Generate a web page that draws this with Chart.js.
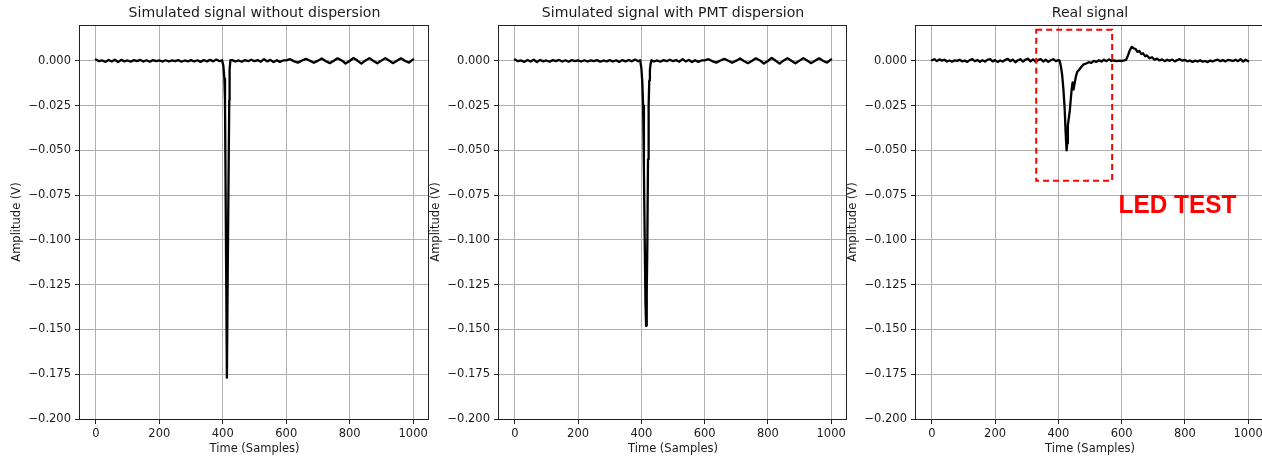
<!DOCTYPE html>
<html>
<head>
<meta charset="utf-8">
<script src="https://cdn.jsdelivr.net/npm/chart.js@4.4.1/dist/chart.umd.min.js"></script>
<style>
  html, body { margin: 0; padding: 0; background: #fff; overflow: hidden; width: 1262px; height: 457px; }
  canvas { position: absolute; top: 0; }
</style>
</head>
<body>
<canvas id="c1" width="432" height="457" style="left:0px"></canvas>
<canvas id="c2" width="431" height="457" style="left:419px"></canvas>
<canvas id="c3" width="431" height="457" style="left:836px"></canvas>
<script>
const titles = ['Simulated signal without dispersion', 'Simulated signal with PMT dispersion', 'Real signal'];
const xLabel = 'Time (Samples)';
const yLabel = 'Amplitude (V)';
const xTicks = [0, 200, 400, 600, 800, 1000];
const yTicks = [-0.2, -0.175, -0.15, -0.125, -0.1, -0.075, -0.05, -0.025, 0];

// shared baseline noise of the two simulated traces
const simBaseTime = [
  0, 10, 20, 30, 40, 50, 60, 70, 80, 90, 100, 110, 120, 130, 140, 150, 160, 170, 180, 190,
  200, 210, 220, 230, 240, 250, 260, 270, 280, 290, 300, 310, 320, 330, 340, 350, 360, 370, 380, 390,
  440, 450, 460, 470, 480, 490, 500, 510, 520, 530, 540, 550, 560, 570, 580, 590,
  600, 612, 625, 637, 650, 662, 675, 687, 700, 712, 725, 737, 750, 762, 775, 787,
  800, 812, 825, 837, 850, 862, 875, 887, 900, 912, 925, 937, 950, 962, 975, 987, 1000
];
const simBaseValues = [
  0.0007, -0.0002, 0.0002, -0.0006, 0.0005, -0.0004, 0.0006, -0.0007, 0.0005, -0.0003,
  0.0002, -0.0005, 0.0004, -0.0002, 0.0005, -0.0004, 0.0003, -0.0005, 0.0004, -0.0002,
  0.0002, -0.0004, 0.0003, -0.0004, 0.0002, -0.0002, 0.0004, -0.0005, 0.0002, -0.0003,
  0.0004, -0.0004, 0.0003, -0.0006, 0.0004, -0.0003, 0.0005, -0.0003, 0.0007, -0.0002,
  -0.0004, 0.0002, -0.0005, 0.0004, -0.0002, 0.0006, -0.0002, 0.0004, -0.0005, 0.0009,
  -0.0003, 0.0005, -0.0007, 0.0003, -0.0006, 0.0002,
  0.0002, 0.0009, -0.0003, -0.0010, 0.0002, 0.0011, 0.0000, -0.0011, 0.0001, 0.0013,
  -0.0002, -0.0013, 0.0000, 0.0014, 0.0002, -0.0015,
  -0.0001, 0.0016, 0.0000, -0.0016, 0.0002, 0.0015, -0.0001, -0.0014, 0.0001, 0.0015,
  0.0000, -0.0013, 0.0002, 0.0014, -0.0001, -0.0010, 0.0008
];

const noDispTime = [398, 402, 405, 407, 410, 413, 416, 419, 420.5, 421.5, 424, 430];
const noDispValues = [0.0003, -0.003, -0.010, -0.022, -0.100, -0.177, -0.110, -0.050, -0.022, -0.005, 0.0004, 0.0004];

const pmtTime = [396, 400, 403, 405.5, 408, 410.6, 413, 415, 417, 419, 421, 423, 425, 427, 429, 432];
const pmtValues = [0.0003, -0.004, -0.012, -0.025, -0.060, -0.100, -0.135, -0.148, -0.130, -0.100, -0.055, -0.025, -0.011, -0.005, -0.002, 0.0003];

const realTime = [
  0, 8, 16, 24, 32, 40, 48, 56, 64, 72, 80, 88, 96, 104, 112, 120, 128, 136, 144, 152,
  160, 168, 176, 184, 192, 200, 208, 216, 224, 232, 240, 248, 256, 264, 272, 280, 288, 296, 304, 312,
  320, 328, 336, 344, 352, 360, 368, 376, 384, 392, 400,
  404, 408, 412, 416, 420, 423, 426, 428, 430, 433, 436, 439, 442, 445, 448, 451, 455, 460, 466, 472,
  480, 488, 496, 504, 512, 520, 528, 536, 544, 552, 560, 568, 576, 584, 592, 600, 608,
  614, 620, 626, 632, 638, 644, 650, 656, 662, 668, 674, 680, 688, 696, 704, 712, 720, 728, 736, 744,
  752, 760, 768, 776, 784, 792, 800, 808, 816, 824, 832, 840, 848, 856, 864, 872, 880, 888, 896, 904,
  912, 920, 928, 936, 944, 952, 960, 968, 976, 984, 992, 1000
];
const realValues = [
  0.0003, 0.0009, -0.0002, 0.0008, 0.0001, 0.0006, -0.0004, 0.0002, -0.0005, 0.0003,
  0.0000, 0.0006, -0.0003, 0.0002, -0.0006, 0.0004, 0.0009, -0.0002, 0.0005, -0.0005,
  0.0003, -0.0004, 0.0006, 0.0010, -0.0003, 0.0004, -0.0006, 0.0002, -0.0004, 0.0005,
  0.0011, -0.0002, 0.0007, -0.0008, 0.0003, 0.0009, -0.0004, 0.0006, 0.0012, -0.0003,
  0.0008, -0.0005, 0.0004, 0.0010, -0.0004, 0.0006, -0.0006, 0.0003, 0.0009, -0.0002, 0.0004,
  0.0001, -0.003, -0.008, -0.016, -0.027, -0.040, -0.050, -0.046, -0.036, -0.032,
  -0.028, -0.022, -0.016, -0.012, -0.016, -0.013, -0.009, -0.006, -0.005, -0.0035,
  -0.002, -0.0015, -0.0008, -0.0012, 0.0000, -0.0006, 0.0003, -0.0004, 0.0006, -0.0002,
  0.0008, -0.0001, 0.0002, -0.0002, 0.0001, -0.0001, 0.0002,
  0.0005, 0.0030, 0.0060, 0.0078, 0.0070, 0.0066, 0.0050, 0.0055, 0.0038, 0.0042,
  0.0026, 0.0030, 0.0014, 0.0020, 0.0006, 0.0012, 0.0002, 0.0008, -0.0002, 0.0006,
  0.0000, 0.0007, -0.0003, 0.0004, 0.0009, 0.0001, 0.0005, -0.0003, 0.0002, -0.0006,
  0.0001, -0.0004, 0.0003, -0.0005, -0.0001, -0.0007, 0.0002, -0.0004, 0.0003, 0.0006,
  -0.0002, 0.0004, -0.0003, 0.0005, 0.0002, -0.0001, 0.0006, -0.0002, 0.0009, -0.0004, 0.0006, -0.0002
];

// annotation on the real signal, in data units
const ledBox = { xMin: 330, xMax: 570, yMin: -0.067, yMax: 0.0173 };
const ledNote = { text: 'LED TEST', x: 590, y: -0.0808 };

const FONT = '"DejaVu Sans", sans-serif';
const TEXT = '#1a1a1a';

function withPulse(baseT, baseV, pT, pV) {
  const pts = [];
  baseT.forEach((t, i) => {
    if (t < pT[0] || t > pT[pT.length - 1]) pts.push({ x: t, y: baseV[i] });
  });
  pT.forEach((t, i) => pts.push({ x: t, y: pV[i] }));
  return pts.sort((a, b) => a.x - b.x);
}

function fmtY(v) {
  const s = Math.abs(v).toFixed(3);
  return v < -1e-9 ? '\u2212' + s : s;
}

// frame + title, drawn like matplotlib axes
const panelDecor = {
  id: 'panelDecor',
  afterDraw(chart, args, opts) {
    const { ctx, chartArea: a } = chart;
    ctx.save();
    ctx.strokeStyle = '#222';
    ctx.lineWidth = 1;
    const l = Math.round(a.left) - 0.5, t = Math.round(a.top) + 0.5;
    const r = Math.round(a.right) - 0.5, b = Math.round(a.bottom) + 0.5;
    ctx.strokeRect(l, t, r - l, b - t);
    ctx.fillStyle = TEXT;
    ctx.font = '14.1px ' + FONT;
    ctx.textAlign = 'center';
    ctx.textBaseline = 'middle';
    ctx.fillText(opts.title, (a.left + a.right) / 2, 13);

    if (opts.box) {
      const x = chart.scales.x, y = chart.scales.y;
      const bx0 = x.getPixelForValue(opts.box.xMin), bx1 = x.getPixelForValue(opts.box.xMax);
      const by0 = y.getPixelForValue(opts.box.yMax), by1 = y.getPixelForValue(opts.box.yMin);
      ctx.strokeStyle = '#ff0000';
      ctx.lineWidth = 2;
      ctx.setLineDash([6, 4]);
      ctx.strokeRect(bx0, by0, bx1 - bx0, by1 - by0);
      ctx.setLineDash([]);
    }
    if (opts.note) {
      const x = chart.scales.x, y = chart.scales.y;
      ctx.font = 'bold 26px "Liberation Sans", Arial, sans-serif';
      ctx.fillStyle = '#ff0000';
      ctx.textAlign = 'left';
      ctx.textBaseline = 'middle';
      const px = x.getPixelForValue(opts.note.x), py = y.getPixelForValue(opts.note.y);
      const w = ctx.measureText(opts.note.text).width;
      ctx.translate(px, py);
      ctx.scale(118 / w, 1);
      ctx.fillText(opts.note.text, 0, 0);
    }
    ctx.restore();
  }
};

function makeChart(id, idx, points, extra) {
  const tickFont = { family: FONT, size: 11.5 };
  return new Chart(document.getElementById(id), {
    type: 'line',
    data: {
      datasets: [{
        data: points,
        borderColor: '#000',
        borderWidth: 2.3,
        borderJoinStyle: 'round',
        borderCapStyle: 'round',
        pointRadius: 0,
        tension: 0,
        fill: false
      }]
    },
    options: {
      responsive: false,
      animation: false,
      layout: { padding: { top: 25, right: 3, left: 0, bottom: 0 } },
      plugins: {
        legend: { display: false },
        tooltip: { enabled: false },
        panelDecor: Object.assign({ title: titles[idx] }, extra || {})
      },
      scales: {
        x: {
          type: 'linear',
          min: -50,
          max: 1050,
          afterBuildTicks: s => { s.ticks = xTicks.map(v => ({ value: v })); },
          afterFit: s => { s.height = 38; },
          grid: { color: '#b0b0b0', lineWidth: 1, tickLength: 5, tickColor: '#222', tickWidth: 1 },
          border: { display: false },
          ticks: { font: tickFont, color: TEXT, padding: 3, maxRotation: 0, autoSkip: false, callback: v => String(v) },
          title: { display: true, text: xLabel, font: tickFont, color: TEXT, padding: { top: 0, bottom: 1 } }
        },
        y: {
          type: 'linear',
          min: -0.2,
          max: 0.02,
          afterBuildTicks: s => { s.ticks = yTicks.map(v => ({ value: v })); },
          afterFit: s => { s.width = 80; },
          grid: { color: '#b0b0b0', lineWidth: 1, tickLength: 5, tickColor: '#222', tickWidth: 1 },
          border: { display: false },
          ticks: { font: tickFont, color: TEXT, padding: 4, autoSkip: false, callback: v => fmtY(v) },
          title: { display: true, text: yLabel, font: tickFont, color: TEXT, padding: { top: 10, bottom: 0 } }
        }
      }
    },
    plugins: [panelDecor]
  });
}

makeChart('c1', 0, withPulse(simBaseTime, simBaseValues, noDispTime, noDispValues));
makeChart('c2', 1, withPulse(simBaseTime, simBaseValues, pmtTime, pmtValues));
makeChart('c3', 2, realTime.map((t, i) => ({ x: t, y: realValues[i] })), { box: ledBox, note: ledNote });
</script>
</body>
</html>
